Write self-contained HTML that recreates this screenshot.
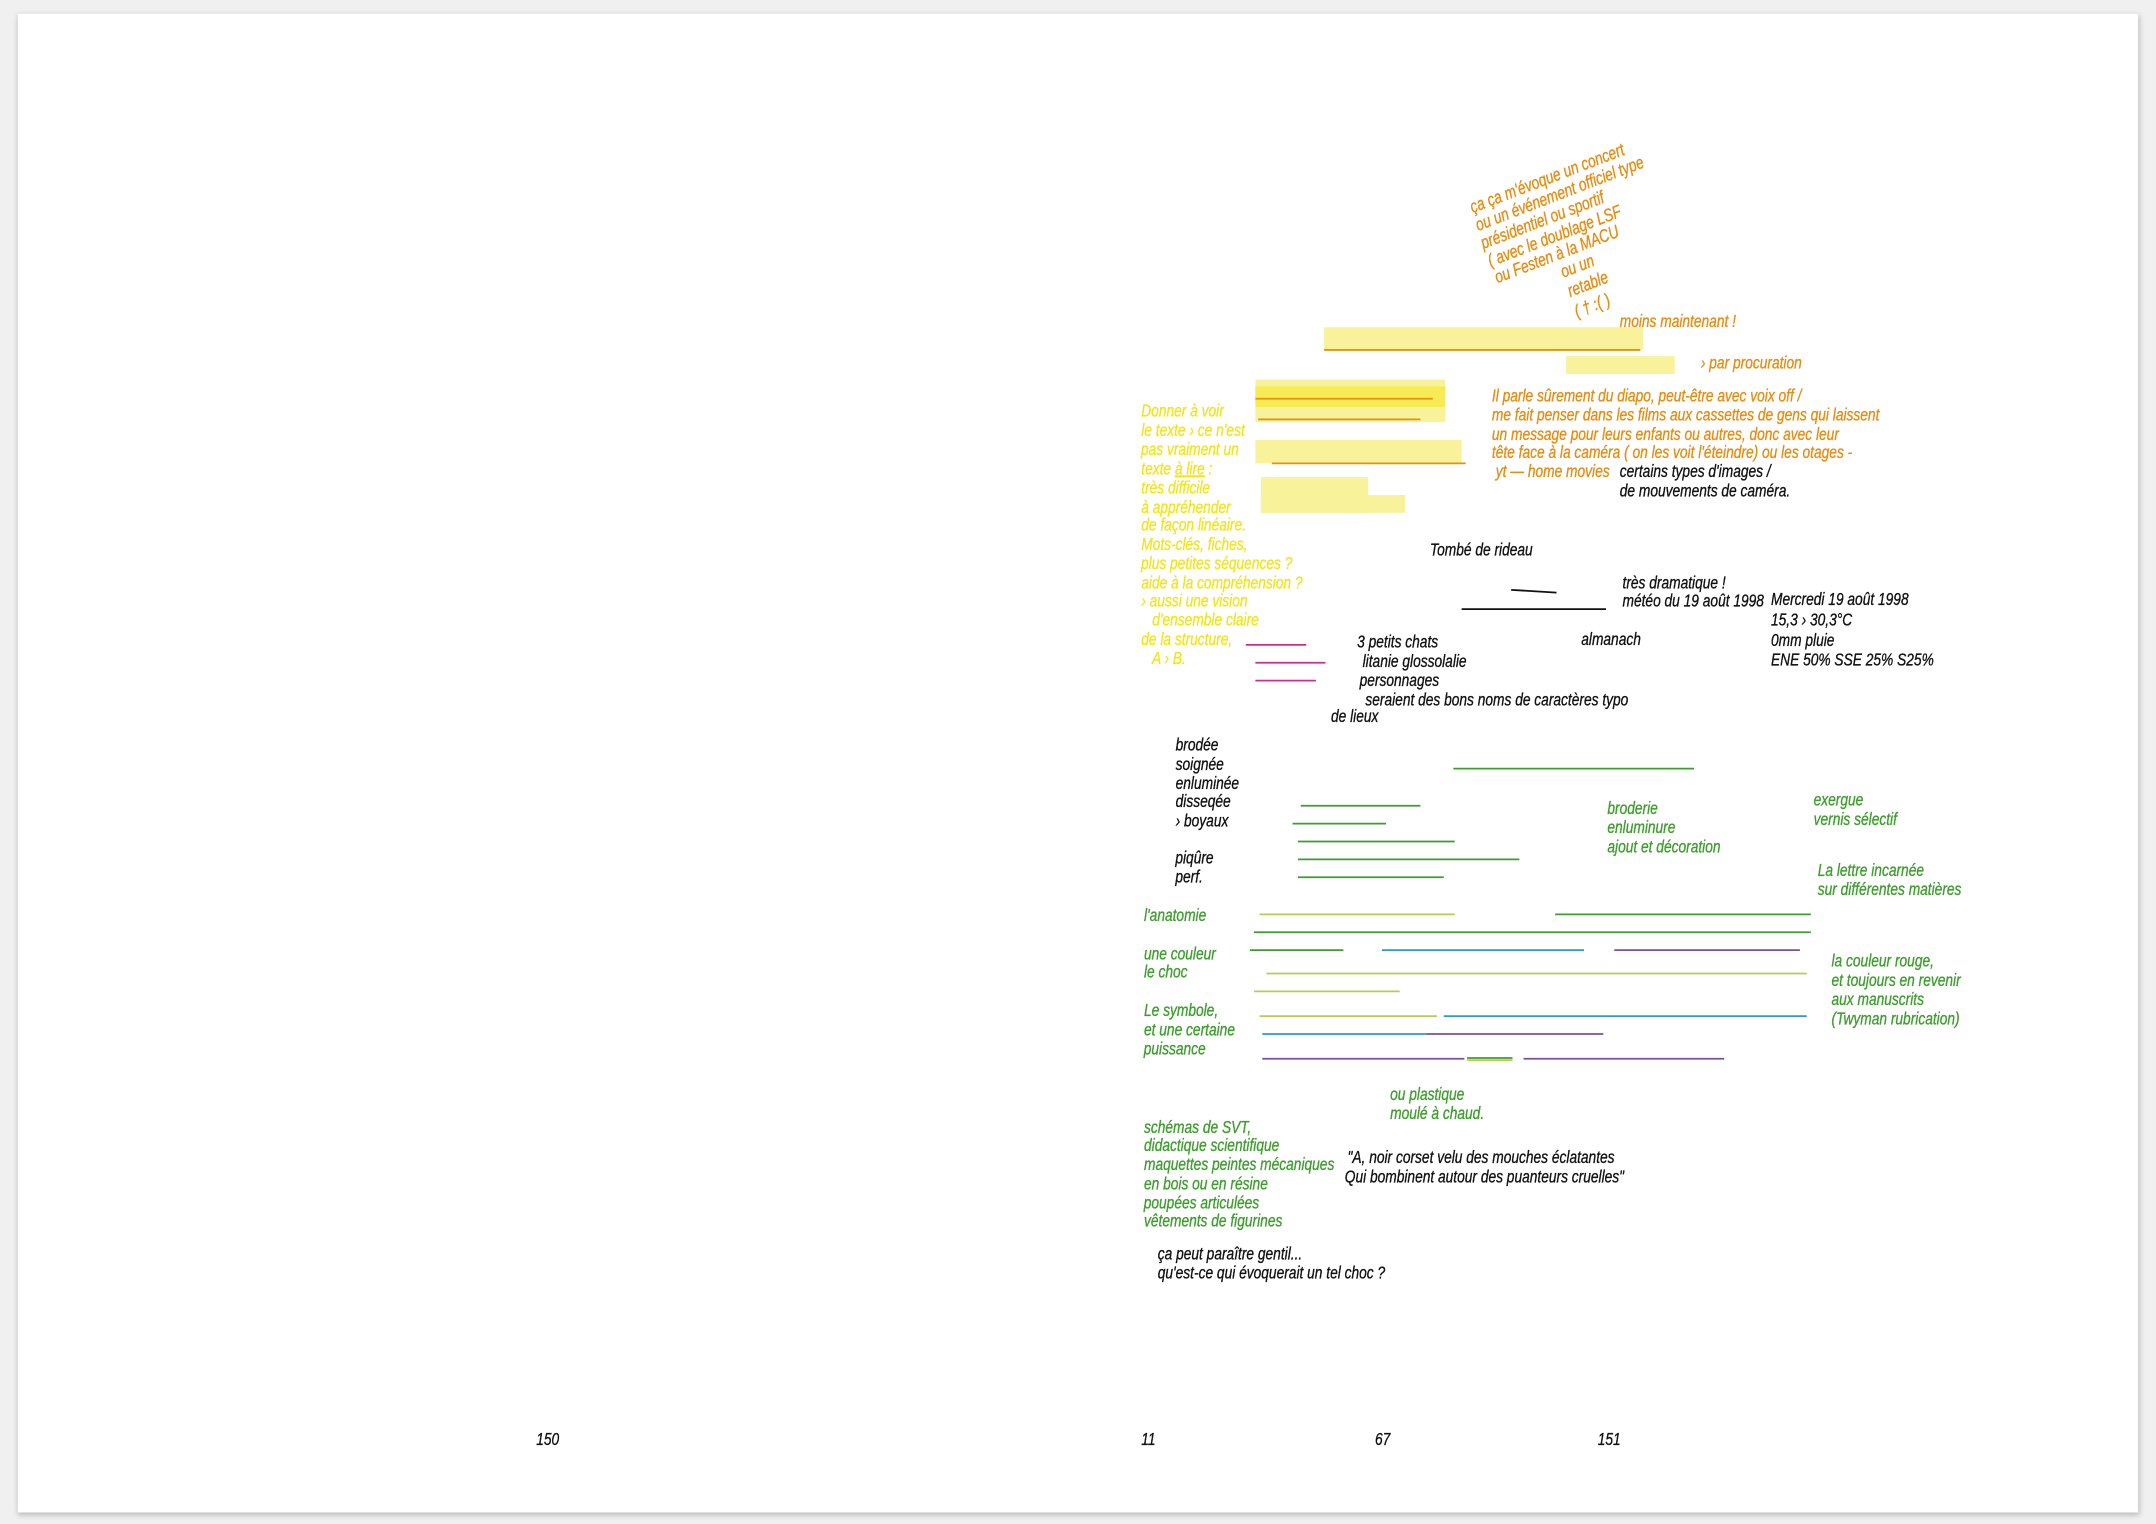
<!DOCTYPE html>
<html><head><meta charset="utf-8"><style>
html,body{margin:0;padding:0;background:#f0f0f0;}
svg{display:block;}
text{font-family:"Liberation Sans",sans-serif;font-style:italic;font-size:13px;transform-box:fill-box;transform-origin:0 0;transform:scaleX(0.77);stroke-width:0.25;}
.o{fill:#e98b10;stroke:#e98b10}.y{fill:#f3e41c;stroke:#f3e41c}.k{fill:#111;stroke:#111}.g{fill:#3c9e2c;stroke:#3c9e2c}
</style></head><body>
<svg width="2156" height="1524" viewBox="0 0 1568 1108.4" preserveAspectRatio="none" xmlns="http://www.w3.org/2000/svg">
<defs><filter id="sh" x="-5%" y="-5%" width="110%" height="110%"><feGaussianBlur stdDeviation="2"/></filter></defs>
<rect x="13" y="11" width="1543" height="1091" fill="#bbb" filter="url(#sh)"/>
<rect x="13" y="10" width="1542" height="1090" fill="#fff"/>

<g fill="#f8f39a">
<rect x="963" y="238" width="232" height="16"/>
<rect x="1139" y="259" width="79" height="13"/>
<rect x="913" y="276" width="138" height="31"/>
<rect x="913" y="320" width="150" height="17"/>
<rect x="917" y="347" width="78" height="26"/>
<rect x="917" y="360" width="105" height="13"/>
</g>
<rect x="913" y="281" width="138" height="15" fill="#f6ea55"/>
<g stroke="#e9900a" stroke-width="1.3">
<line x1="963" y1="254.5" x2="1193" y2="254.5"/>
<line x1="913" y1="290" x2="1042" y2="290"/>
<line x1="915" y1="305" x2="1033" y2="305"/>
<line x1="925" y1="337" x2="1066" y2="337"/>
</g>

<g transform="translate(1071,155) rotate(-21)"><text x="0" y="0" class="o">ça ça m'évoque un concert</text></g>
<g transform="translate(1075,168) rotate(-21)"><text x="0" y="0" class="o">ou un événement officiel type</text></g>
<g transform="translate(1079,181) rotate(-21)"><text x="0" y="0" class="o">présidentiel ou sportif</text></g>
<g transform="translate(1084,194) rotate(-21)"><text x="0" y="0" class="o">( avec le doublage LSF</text></g>
<g transform="translate(1089,206) rotate(-21)"><text x="0" y="0" class="o">ou Festen à la MACU</text></g>
<g transform="translate(1137,202) rotate(-21)"><text x="0" y="0" class="o">ou un</text></g>
<g transform="translate(1142,216) rotate(-21)"><text x="0" y="0" class="o">retable</text></g>
<g transform="translate(1147,231) rotate(-21)"><text x="0" y="0" class="o">( † :( )</text></g>

<text x="1178" y="238" class="o">moins maintenant !</text>
<text x="1237" y="268" class="o">› par procuration</text>
<text x="1085" y="292" class="o">Il parle sûrement du diapo, peut-être avec voix off /</text>
<text x="1085" y="306" class="o">me fait penser dans les films aux cassettes de gens qui laissent</text>
<text x="1085" y="320" class="o">un message pour leurs enfants ou autres, donc avec leur</text>
<text x="1085" y="333" class="o">tête face à la caméra ( on les voit l'éteindre) ou les otages -</text>
<text x="1088" y="347" class="o">yt — home movies</text>
<text x="1178" y="347" class="k">certains types d'images /</text>
<text x="1178" y="361" class="k">de mouvements de caméra.</text>

<text x="830" y="303" class="y">Donner à voir</text>
<text x="830" y="317" class="y">le texte › ce n'est</text>
<text x="830" y="331" class="y">pas vraiment un</text>
<text x="830" y="345" class="y">texte <tspan text-decoration="underline">à lire</tspan> :</text>
<text x="830" y="359" class="y">très difficile</text>
<text x="830" y="373" class="y">à appréhender</text>
<text x="830" y="386" class="y">de façon linéaire.</text>
<text x="830" y="400" class="y">Mots-clés, fiches,</text>
<text x="830" y="414" class="y">plus petites séquences ?</text>
<text x="830" y="428" class="y">aide à la compréhension ?</text>
<text x="830" y="441" class="y">› aussi une vision</text>
<text x="838" y="455" class="y">d'ensemble claire</text>
<text x="830" y="469" class="y">de la structure,</text>
<text x="838" y="483" class="y">A › B.</text>

<text x="1040" y="404" class="k">Tombé de rideau</text>
<line x1="1099" y1="429" x2="1132" y2="431" stroke="#111" stroke-width="1.3"/>
<line x1="1063" y1="443" x2="1168" y2="443" stroke="#111" stroke-width="1.3"/>
<text x="1180" y="428" class="k">très dramatique !</text>
<text x="1180" y="441" class="k">météo du 19 août 1998</text>
<text x="1288" y="440" class="k">Mercredi 19 août 1998</text>
<text x="1288" y="455" class="k">15,3 › 30,3°C</text>
<text x="1288" y="470" class="k">0mm pluie</text>
<text x="1288" y="484" class="k">ENE 50%  SSE 25%  S25%</text>
<text x="1150" y="469" class="k">almanach</text>
<g stroke="#c8308c" stroke-width="1.3">
<line x1="906" y1="469" x2="950" y2="469"/>
<line x1="913" y1="482" x2="964" y2="482"/>
<line x1="913" y1="495" x2="957" y2="495"/>
</g>
<text x="987" y="471" class="k">3 petits chats</text>
<text x="991" y="485" class="k">litanie glossolalie</text>
<text x="989" y="499" class="k">personnages</text>
<text x="993" y="513" class="k">seraient des bons noms de caractères typo</text>
<text x="968" y="525" class="k">de lieux</text>

<text x="855" y="546" class="k">brodée</text>
<text x="855" y="560" class="k">soignée</text>
<text x="855" y="574" class="k">enluminée</text>
<text x="855" y="587" class="k">disseqée</text>
<text x="855" y="601" class="k">› boyaux</text>
<text x="855" y="628" class="k">piqûre</text>
<text x="855" y="642" class="k">perf.</text>

<g stroke="#3c9e2c" stroke-width="1.3">
<line x1="1057" y1="559" x2="1232" y2="559"/>
<line x1="946" y1="586" x2="1033" y2="586"/>
<line x1="940" y1="599" x2="1008" y2="599"/>
<line x1="944" y1="612" x2="1058" y2="612"/>
<line x1="944" y1="625" x2="1105" y2="625"/>
<line x1="944" y1="638" x2="1050" y2="638"/>
<line x1="1131" y1="665" x2="1317" y2="665"/>
<line x1="912" y1="678" x2="1317" y2="678"/>
<line x1="909" y1="691" x2="977" y2="691"/>
<line x1="1067" y1="769.5" x2="1100" y2="769.5"/>
</g>
<g stroke="#b8cc55" stroke-width="1.3">
<line x1="916" y1="665" x2="1058" y2="665"/>
<line x1="921" y1="708" x2="1314" y2="708"/>
<line x1="912" y1="721" x2="1018" y2="721"/>
<line x1="916" y1="739" x2="1045" y2="739"/>
<line x1="1067" y1="771" x2="1100" y2="771"/>
</g>
<g stroke="#2a9ad8" stroke-width="1.3">
<line x1="1005" y1="691" x2="1152" y2="691"/>
<line x1="1050" y1="739" x2="1314" y2="739"/>
<line x1="918" y1="752" x2="1037" y2="752"/>
</g>
<g stroke="#7a4fa0" stroke-width="1.3">
<line x1="1174" y1="691" x2="1309" y2="691"/>
<line x1="1037" y1="752" x2="1166" y2="752"/>
<line x1="918" y1="770" x2="1065" y2="770"/>
<line x1="1108" y1="770" x2="1254" y2="770"/>
</g>

<text x="1169" y="592" class="g">broderie</text>
<text x="1169" y="606" class="g">enluminure</text>
<text x="1169" y="620" class="g">ajout et décoration</text>
<text x="1319" y="586" class="g">exergue</text>
<text x="1319" y="600" class="g">vernis sélectif</text>
<text x="1322" y="637" class="g">La lettre incarnée</text>
<text x="1322" y="651" class="g">sur différentes matières</text>
<text x="832" y="670" class="g">l'anatomie</text>
<text x="832" y="698" class="g">une couleur</text>
<text x="832" y="711" class="g">le choc</text>
<text x="832" y="739" class="g">Le symbole,</text>
<text x="832" y="753" class="g">et une certaine</text>
<text x="832" y="767" class="g">puissance</text>
<text x="1332" y="703" class="g">la couleur rouge,</text>
<text x="1332" y="717" class="g">et toujours en revenir</text>
<text x="1332" y="731" class="g">aux manuscrits</text>
<text x="1332" y="745" class="g">(Twyman rubrication)</text>
<text x="1011" y="800" class="g">ou plastique</text>
<text x="1011" y="814" class="g">moulé à chaud.</text>
<text x="832" y="824" class="g">schémas de SVT,</text>
<text x="832" y="837" class="g">didactique scientifique</text>
<text x="832" y="851" class="g">maquettes peintes mécaniques</text>
<text x="832" y="865" class="g">en bois ou en résine</text>
<text x="832" y="879" class="g">poupées articulées</text>
<text x="832" y="892" class="g">vêtements de figurines</text>
<text x="980" y="846" class="k">"A, noir corset velu des mouches éclatantes</text>
<text x="978" y="860" class="k">Qui bombinent autour des puanteurs cruelles"</text>
<text x="842" y="916" class="k">ça peut paraître gentil...</text>
<text x="842" y="930" class="k">qu'est-ce qui évoquerait un tel choc ?</text>

<text x="390" y="1051" class="k">150</text>
<text x="830" y="1051" class="k">11</text>
<text x="1000" y="1051" class="k">67</text>
<text x="1162" y="1051" class="k">151</text>
</svg>
</body></html>
